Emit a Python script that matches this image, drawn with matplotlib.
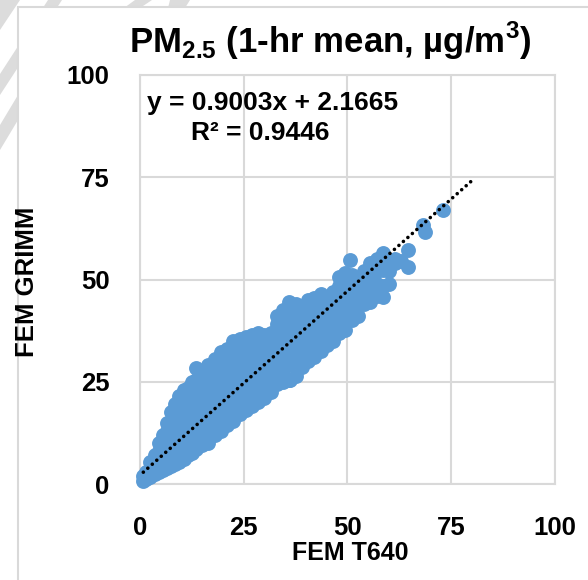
import numpy as np
import matplotlib
matplotlib.use("Agg")
import matplotlib.pyplot as plt
from matplotlib.patches import Rectangle, Polygon

plt.rcParams['font.family'] = ['Liberation Sans', 'DejaVu Sans']
plt.rcParams['font.weight'] = 'bold'
plt.rcParams['mathtext.fontset'] = 'custom'
plt.rcParams['mathtext.rm'] = 'Liberation Sans:bold'
plt.rcParams['mathtext.bf'] = 'Liberation Sans:bold'

# FEM T640 (x) vs FEM GRIMM (y), 1-hr means
t640 = [0.8, 0.8, 1.5, 1.5, 2.5, 2.5, 2.5, 3.5, 3.5, 3.5,
        4.5, 4.5, 4.5, 4.5, 5.5, 5.5, 5.5, 5.5,
        6.5, 6.5, 6.5, 6.5, 6.5, 7.5, 7.5, 7.5, 7.5, 7.5,
        8.5, 8.5, 8.5, 8.5, 8.5, 9.5, 9.5, 9.5, 9.5, 9.5, 9.5,
        10.5, 10.5, 10.5, 10.5, 10.5, 10.5, 11.5, 11.5, 11.5, 11.5, 11.5, 11.5,
        12.5, 12.5, 12.5, 12.5, 12.5, 12.5, 13.5, 13.5, 13.5, 13.5, 13.5, 13.5, 13.5,
        15, 15, 15, 15, 15, 15, 16.5, 16.5, 16.5, 16.5, 16.5, 16.5, 16.5,
        18, 18, 18, 18, 18, 18, 18, 19.5, 19.5, 19.5, 19.5, 19.5, 19.5, 19.5,
        21, 21, 21, 21, 21, 21, 21, 22.5, 22.5, 22.5, 22.5, 22.5, 22.5, 22.5,
        24, 24, 24, 24, 24, 24, 24, 25.5, 25.5, 25.5, 25.5, 25.5, 25.5, 25.5,
        27, 27, 27, 27, 27, 27, 27, 28.5, 28.5, 28.5, 28.5, 28.5, 28.5, 28.5,
        30, 30, 30, 30, 30, 30, 31.5, 31.5, 31.5, 31.5, 31.5, 31.5,
        33, 33, 33, 33, 33, 33, 33, 34.5, 34.5, 34.5, 34.5, 34.5, 34.5, 34.5,
        36, 36, 36, 36, 36, 36, 36, 36.1, 37.5, 37.5, 37.5, 37.5, 37.5, 37.5, 37.5,
        39, 39, 39, 39, 39, 39, 40.5, 40.5, 40.5, 40.5, 40.5, 40.5,
        42, 42, 42, 42, 42, 42, 43.5, 43.5, 43.5, 43.5, 43.5, 43.5,
        45, 45, 45, 45, 45, 46.5, 46.5, 46.5, 46.5, 46.5,
        48, 48, 48, 48, 48, 48, 49.5, 49.5, 49.5, 49.5, 49.5, 49.5,
        50.6, 51, 51, 51, 51, 51, 52.5, 52.5, 52.5, 52.5,
        54, 54, 54, 54, 55.5, 55.5, 55.5, 55.5, 57, 57, 57, 57,
        58.5, 58.5, 58.5, 58.5, 60, 60, 60, 61.5, 61.5, 63, 64.5, 64.5,
        68.2, 68.7, 73]
grimm = [0.8, 2.0, 1.2, 3.0, 1.8, 3.5, 5.5, 2.5, 4.5, 7.0,
         3.0, 5.5, 8.0, 10.0, 3.5, 6.0, 9.0, 12.0,
         4.0, 7.0, 10.0, 13.0, 15.0, 4.5, 8.0, 11.0, 14.0, 17.5,
         5.0, 8.5, 12.0, 15.5, 19.5, 5.5, 9.0, 12.5, 16.0, 19.0, 21.5,
         6.0, 9.5, 13.0, 16.5, 20.0, 23.0, 7.0, 10.5, 14.0, 17.0, 20.5, 23.5,
         7.5, 11.0, 14.5, 18.0, 21.5, 25.0, 8.5, 12.0, 15.0, 18.5, 22.0, 25.5, 28.3,
         9.5, 13.0, 16.5, 20.0, 23.0, 26.5, 10.0, 13.5, 17.0, 20.5, 24.0, 27.5, 29.0,
         12.0, 15.0, 18.5, 22.0, 25.0, 28.0, 30.5, 13.0, 16.0, 19.5, 23.0, 26.5, 29.5, 32.3,
         14.5, 17.5, 21.0, 24.0, 27.5, 30.5, 33.0, 15.5, 18.5, 22.0, 25.0, 28.5, 31.5, 35.0,
         17.0, 20.0, 23.0, 26.5, 29.5, 32.5, 35.5, 18.0, 21.0, 24.0, 27.5, 30.5, 33.5, 36.0,
         19.0, 22.0, 25.5, 28.5, 31.5, 34.5, 36.5, 20.0, 23.0, 26.0, 29.5, 32.5, 35.5, 37.0,
         21.0, 24.0, 27.5, 30.5, 33.5, 36.5, 22.5, 25.5, 28.5, 31.5, 34.5, 37.0,
         24.5, 27.0, 30.0, 33.0, 36.0, 39.0, 41.0, 25.0, 28.0, 31.0, 34.0, 37.0, 40.0, 42.5,
         25.5, 29.0, 32.0, 35.0, 38.0, 41.0, 44.5, 25.4, 26.5, 30.0, 33.5, 36.5, 39.5, 42.5, 44.0,
         28.5, 31.5, 34.5, 37.5, 40.5, 43.5, 30.0, 33.0, 36.0, 39.0, 42.0, 45.0,
         31.0, 34.0, 37.0, 40.0, 43.0, 45.5, 32.5, 35.5, 38.5, 41.5, 44.5, 46.5,
         34.0, 37.0, 40.0, 43.0, 45.7, 35.0, 38.0, 41.0, 44.0, 47.0,
         37.0, 39.5, 42.5, 45.5, 48.5, 50.6, 37.7, 40.5, 43.5, 46.5, 49.0, 51.5,
         54.8, 40.0, 42.5, 45.5, 48.5, 51.0, 41.0, 44.0, 47.0, 50.0,
         44.0, 46.7, 49.5, 52.0, 44.5, 47.0, 50.5, 54.0, 46.0, 49.0, 52.0, 55.0,
         45.7, 48.5, 52.3, 56.5, 49.0, 52.0, 54.8, 54.0, 55.0, 54.5, 53.1, 57.2,
         63.3, 61.6, 67.0]

slope, intercept = 0.9003, 2.1665
trend_x = [min(t640), 80]
ticks = [0, 25, 50, 75, 100]

fig = plt.figure(figsize=(5.88, 5.80), dpi=100)

# background watermark shapes and chart frame
gray = '#DCDCDC'
for pts in [[(0, 0), (20, 0), (0, 30)],
            [(48, 0), (62, 0), (0, 95), (0, 74)],
            [(135, 0), (152, 0), (140, 8), (124, 8)],
            [(170, 0), (190, 0), (185, 8), (168, 8)],
            [(0, 125), (18, 95), (18, 120), (0, 150)]]:
    fig.patches.append(Polygon([(px / 588, 1 - py / 580) for px, py in pts],
                               closed=True, transform=fig.transFigure,
                               facecolor=gray, edgecolor='none', zorder=0))
fig.patches.append(Rectangle((18 / 588, -0.1), 1.2, 1 - 7 / 580 + 0.1,
                             transform=fig.transFigure, facecolor='white',
                             edgecolor='#D9D9D9', linewidth=1.5, zorder=1))

ax = fig.add_axes([140 / 588, 1 - 484 / 580, 415 / 588, 409 / 580])
ax.set_zorder(2)
ax.set_xlim(0, 100)
ax.set_ylim(0, 100)
ax.set_xticks(ticks)
ax.set_yticks(ticks)
ax.grid(True, color='#D9D9D9', linewidth=1.5)
ax.set_axisbelow(True)
for s in ax.spines.values():
    s.set_color('#D9D9D9')
    s.set_linewidth(1.5)
ax.tick_params(axis='y', length=0, labelsize=18.5, pad=22)
ax.tick_params(axis='x', length=0, labelsize=18.5, pad=23)

ax.scatter(t640, grimm, s=115, color='#5B9BD5', linewidths=0, zorder=3, clip_on=False)
ax.plot(trend_x, [slope * v + intercept for v in trend_x], color='black',
        linewidth=2.6, linestyle=(0, (0.01, 1.65)), dash_capstyle='round', zorder=4)

fig.text(147 / 588, 1 - 103 / 580, 'y = 0.9003x + 2.1665', fontsize=19,
         va='center', ha='left')
fig.text(260 / 588, 1 - 133 / 580, 'R² = 0.9446', fontsize=19,
         va='center', ha='center')

fig.text(350 / 588, 1 - 553 / 580, 'FEM T640', fontsize=18,
         ha='center', va='center')
fig.text(27 / 588, 1 - 282 / 580, 'FEM GRIMM', fontsize=18.5,
         ha='center', va='center', rotation=90)
fig.text(330 / 588, 1 - 41 / 580, r'PM$_{2.5}$ (1-hr mean, µg/m$^{3}$)',
         fontsize=25, ha='center', va='center')

fig.savefig('out.png', dpi=100)
